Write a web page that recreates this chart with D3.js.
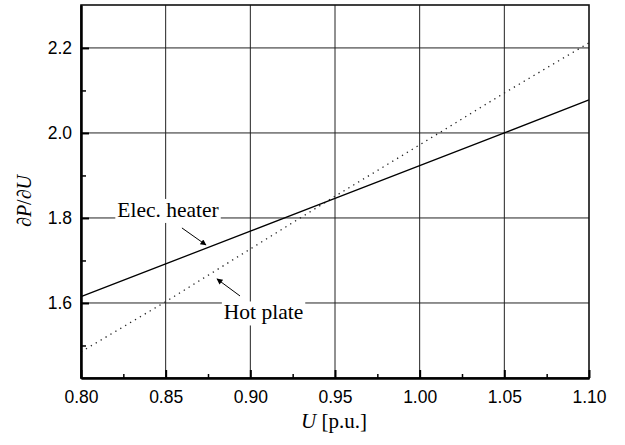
<!DOCTYPE html>
<html>
<head>
<meta charset="utf-8">
<script src="https://cdn.jsdelivr.net/npm/d3@7"></script>
<style>
  html, body { margin: 0; padding: 0; background: #fff; }
  svg { display: block; }
</style>
</head>
<body>
<svg id="chart" width="625" height="445"></svg>
<script>
// ---- data ----
const uValues = [0.80, 0.85, 0.90, 0.95, 1.00, 1.05, 1.10];
const elecHeater = [1.615, 1.692, 1.769, 1.846, 1.923, 2.000, 2.078];
const hotPlate = [1.485, 1.603, 1.727, 1.851, 1.972, 2.094, 2.212];
const xTickValues = [0.80, 0.85, 0.90, 0.95, 1.00, 1.05, 1.10];
const xMinorTicks = [0.825, 0.875, 0.925, 0.975, 1.025, 1.075];
const yTickValues = [1.6, 1.8, 2.0, 2.2];
const yMinorTicks = [1.5, 1.7, 1.9, 2.1];
const labelNames = ["Elec. heater", "Hot plate"];
const labelAnchors = [[0.8514, 1.8024], [0.9078, 1.5612]];
const arrowFrom = [[0.8596, 1.7765], [0.8939, 1.6165]];
const arrowTo = [[0.8738, 1.7365], [0.8803, 1.6565]];

// ---- layout ----
const svg = d3.select("#chart");
const L = 81, R = 589, T = 5, B = 378;
const x = d3.scaleLinear().domain([0.8, 1.1]).range([L, R]);
const y = d3.scaleLinear().domain([1.4235, 2.301]).range([B, T]);
const serif = "'Liberation Serif','Times New Roman',Times,serif";
const sans = "'Liberation Sans',Arial,Helvetica,sans-serif";

svg.append("defs").append("marker")
  .attr("id", "arrow").attr("viewBox", "0 0 10 10")
  .attr("refX", 9).attr("refY", 5)
  .attr("markerWidth", 8).attr("markerHeight", 6)
  .attr("markerUnits", "userSpaceOnUse")
  .attr("orient", "auto")
  .append("path").attr("d", "M0,0 L10,5 L0,10 z").attr("fill", "#000");

// gridlines
const grid = svg.append("g");
grid.selectAll("line.vx").data(xTickValues.slice(1, -1)).enter().append("line")
  .attr("x1", d => x(d)).attr("x2", d => x(d)).attr("y1", T).attr("y2", B)
  .attr("stroke", "#222").attr("stroke-width", 1);
grid.selectAll("line.hy").data(yTickValues).enter().append("line")
  .attr("x1", L).attr("x2", R).attr("y1", d => y(d)).attr("y2", d => y(d))
  .attr("stroke", "#222").attr("stroke-width", 1);

// series
const line = d3.line().x((d, i) => x(uValues[i])).y(d => y(d));
svg.append("path").datum(hotPlate).attr("d", line)
  .attr("fill", "none").attr("stroke", "#222").attr("stroke-width", 1.3)
  .attr("stroke-dasharray", "1.3,4.4");
svg.append("path").datum(elecHeater).attr("d", line)
  .attr("fill", "none").attr("stroke", "#000").attr("stroke-width", 1.3);

// labels with white background
labelNames.forEach((name, i) => {
  const g = svg.append("g");
  const rect = g.append("rect").attr("fill", "#fff");
  const t = g.append("text")
    .attr("x", x(labelAnchors[i][0])).attr("y", y(labelAnchors[i][1]))
    .attr("text-anchor", "middle")
    .attr("font-family", serif).attr("font-size", 21.5)
    .attr("fill", "#000").text(name);
  const bb = t.node().getBBox();
  rect.attr("x", bb.x - 2).attr("y", bb.y + 1).attr("width", bb.width + 4).attr("height", bb.height);
  svg.append("line")
    .attr("x1", x(arrowFrom[i][0])).attr("y1", y(arrowFrom[i][1]))
    .attr("x2", x(arrowTo[i][0])).attr("y2", y(arrowTo[i][1]))
    .attr("stroke", "#000").attr("stroke-width", 1)
    .attr("marker-end", "url(#arrow)");
});

// frame
svg.append("rect").attr("x", L).attr("y", T).attr("width", R - L).attr("height", B - T)
  .attr("fill", "none").attr("stroke", "#111").attr("stroke-width", 1.6);

// axes
const xAxis = svg.append("g").attr("transform", `translate(0,${B})`)
  .call(d3.axisBottom(x).tickValues(xTickValues).tickFormat(d3.format(".2f"))
    .tickSizeInner(-8).tickSizeOuter(0).tickPadding(13));
const xMinor = svg.append("g").attr("transform", `translate(0,${B})`)
  .call(d3.axisBottom(x).tickValues(xMinorTicks).tickFormat("").tickSizeInner(-4).tickSizeOuter(0));
const yAxis = svg.append("g").attr("transform", `translate(${L},0)`)
  .call(d3.axisLeft(y).tickValues(yTickValues).tickFormat(d3.format(".1f"))
    .tickSizeInner(-8).tickSizeOuter(0).tickPadding(9));
const yMinor = svg.append("g").attr("transform", `translate(${L},0)`)
  .call(d3.axisLeft(y).tickValues(yMinorTicks).tickFormat("").tickSizeInner(-5).tickSizeOuter(0));

[xAxis, yAxis, xMinor, yMinor].forEach(a => {
  a.select(".domain").attr("stroke", "#000").attr("stroke-width", 2);
  a.selectAll(".tick line").attr("stroke", "#000").attr("stroke-width", 2);
  a.selectAll("text").attr("font-family", sans).attr("font-size", 17.5).attr("fill", "#000");
});
[xMinor, yMinor].forEach(a => a.selectAll(".tick line").attr("stroke-width", 1.5));

// axis titles
const xt = svg.append("text").attr("x", 334).attr("y", 428)
  .attr("text-anchor", "middle").attr("font-family", serif).attr("font-size", 21).attr("fill", "#000");
xt.append("tspan").attr("font-style", "italic").text("U");
xt.append("tspan").text(" [p.u.]");

const yt = svg.append("text").attr("transform", "translate(31,201) rotate(-90)")
  .attr("text-anchor", "middle").attr("font-family", serif).attr("font-size", 20).attr("fill", "#000");
yt.append("tspan").text("∂");
yt.append("tspan").attr("font-style", "italic").text("P");
yt.append("tspan").text("/∂");
yt.append("tspan").attr("font-style", "italic").text("U");
</script>
</body>
</html>
